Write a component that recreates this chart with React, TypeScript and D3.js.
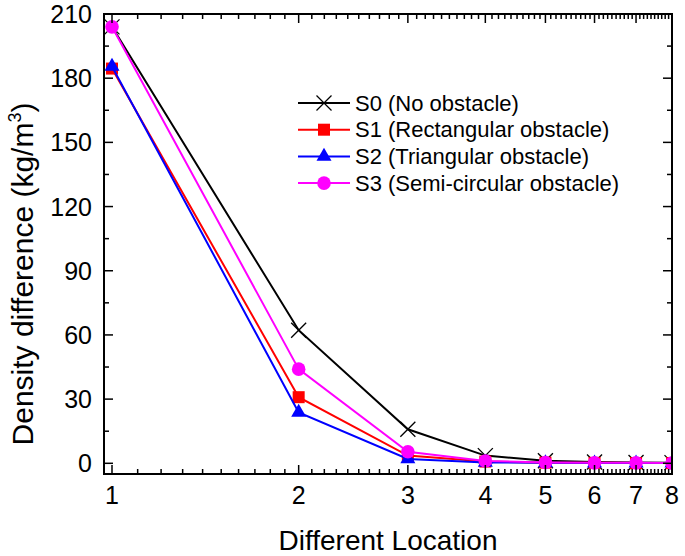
import React from 'react';
import * as d3 from 'd3';

const locations = [1, 2, 3, 4, 5, 6, 7, 8];
const s0NoObstacle = [204, 62.2, 15.9, 3.6, 1.2, 0.6, 0.4, 0.3];
const s1Rectangular = [184.5, 30.9, 3.6, 0.8, 0.3, 0.2, 0.1, 0.1];
const s2Triangular = [185.5, 23.8, 2.0, 0.4, 0.2, 0.1, 0.1, 0.1];
const s3SemiCircular = [204, 44.0, 5.4, 1.1, 0.4, 0.2, 0.2, 0.1];
const seriesNames = [
  'S0 (No obstacle)',
  'S1 (Rectangular obstacle)',
  'S2 (Triangular obstacle)',
  'S3 (Semi-circular obstacle)',
];
const seriesColors = ['#000000', '#ff0000', '#0000ff', '#ff00ff'];
const seriesMarkers = ['cross', 'square', 'triangle', 'circle'];
const yTicks = [0, 30, 60, 90, 120, 150, 180, 210];
const yMinorTicks = [15, 45, 75, 105, 135, 165, 195];
const xTicks = [1, 2, 3, 4, 5, 6, 7, 8];

const FONT = '"Liberation Sans", Arial, sans-serif';

function Marker({ type, cx, cy, color }: { type: string; cx: number; cy: number; color: string }) {
  if (type === 'cross') {
    const s = 7.5;
    return (
      <g stroke={color} strokeWidth={1.3}>
        <line x1={cx - s} y1={cy - s} x2={cx + s} y2={cy + s} />
        <line x1={cx - s} y1={cy + s} x2={cx + s} y2={cy - s} />
      </g>
    );
  }
  if (type === 'square') {
    return <rect x={cx - 6} y={cy - 6} width={12} height={12} fill={color} />;
  }
  if (type === 'triangle') {
    const h = 13;
    const w = 15;
    return (
      <path
        d={`M${cx},${cy - (2 * h) / 3} L${cx + w / 2},${cy + h / 3} L${cx - w / 2},${cy + h / 3} Z`}
        fill={color}
      />
    );
  }
  return <circle cx={cx} cy={cy} r={6.8} fill={color} />;
}

export default function App() {
  const W = 685;
  const H = 556;
  const left = 104;
  const right = 672;
  const top = 14;
  const bottom = 474;
  const x = d3.scaleLog().domain([1, 8]).range([112, 672]);
  const y = d3.scaleLinear().domain([-5, 210]).range([bottom, top]);

  const allSeries = [s0NoObstacle, s1Rectangular, s2Triangular, s3SemiCircular];
  const line = d3
    .line<number>()
    .x((_, i) => x(locations[i]))
    .y((d) => y(d));

  const xMinor: number[] = [];
  for (let k = 11; k < 80; k++) {
    if (k % 10 !== 0) xMinor.push(k / 10);
  }

  const major = 9;
  const minor = 5;

  return (
    <svg
      width={W}
      height={H}
      style={{ position: 'absolute', left: 0, top: 0, background: '#fff' }}
      fontFamily={FONT}
    >
      <defs>
        <clipPath id="plotClip">
          <rect x={left} y={top} width={right - left} height={bottom - top} />
        </clipPath>
      </defs>

      {/* series */}
      <g clipPath="url(#plotClip)">
        {allSeries.map((s, si) => (
          <g key={si}>
            <path d={line(s) || ''} fill="none" stroke={seriesColors[si]} strokeWidth={2} />
            {s.map((v, i) => (
              <Marker key={i} type={seriesMarkers[si]} cx={x(locations[i])} cy={y(v)} color={seriesColors[si]} />
            ))}
          </g>
        ))}
      </g>

      {/* axes ticks */}
      <g stroke="#000" strokeWidth={1.5}>
        {xTicks.map((t) => (
          <g key={'xt' + t}>
            <line x1={x(t)} x2={x(t)} y1={bottom} y2={bottom - major} />
            <line x1={x(t)} x2={x(t)} y1={top} y2={top + major} />
          </g>
        ))}
        {xMinor.map((t) => (
          <g key={'xm' + t}>
            <line x1={x(t)} x2={x(t)} y1={bottom} y2={bottom - minor} />
            <line x1={x(t)} x2={x(t)} y1={top} y2={top + minor} />
          </g>
        ))}
        {yTicks.map((t) => (
          <g key={'yt' + t}>
            <line x1={left} x2={left + major} y1={y(t)} y2={y(t)} />
            <line x1={right} x2={right - major} y1={y(t)} y2={y(t)} />
          </g>
        ))}
        {yMinorTicks.map((t) => (
          <g key={'ym' + t}>
            <line x1={left} x2={left + minor} y1={y(t)} y2={y(t)} />
            <line x1={right} x2={right - minor} y1={y(t)} y2={y(t)} />
          </g>
        ))}
      </g>

      {/* frame */}
      <rect x={left} y={top} width={right - left} height={bottom - top} fill="none" stroke="#000" strokeWidth={2} />

      {/* tick labels */}
      <g fontSize={25} fill="#000">
        {yTicks.map((t) => (
          <text key={'yl' + t} x={92} y={y(t)} textAnchor="end" dominantBaseline="central">
            {t}
          </text>
        ))}
        {xTicks.map((t) => (
          <text key={'xl' + t} x={x(t)} y={504} textAnchor="middle">
            {t}
          </text>
        ))}
      </g>

      {/* axis titles */}
      <text x={388} y={550} textAnchor="middle" fontSize={28}>
        Different Location
      </text>
      <text transform="translate(33,274) rotate(-90)" textAnchor="middle" fontSize={30}>
        Density difference (kg/m
        <tspan fontSize={18} dy={-12}>3</tspan>
        <tspan dy={12}>)</tspan>
      </text>

      {/* legend */}
      <g>
        {seriesNames.map((name, i) => {
          const ly = 103 + i * 26.7;
          return (
            <g key={name}>
              <line x1={298} x2={350} y1={ly} y2={ly} stroke={seriesColors[i]} strokeWidth={2} />
              <Marker type={seriesMarkers[i]} cx={324} cy={ly} color={seriesColors[i]} />
              <text x={355} y={ly} dominantBaseline="central" fontSize={22}>
                {name}
              </text>
            </g>
          );
        })}
      </g>
    </svg>
  );
}
